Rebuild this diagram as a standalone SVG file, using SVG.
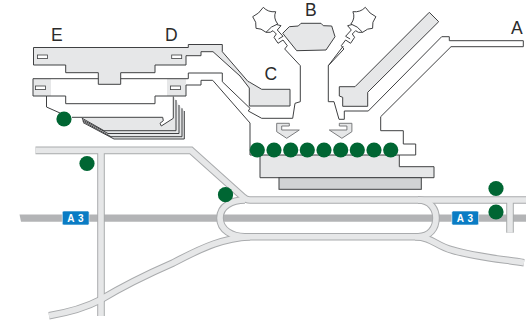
<svg xmlns="http://www.w3.org/2000/svg" width="526" height="320" viewBox="0 0 526 320">
<style>
.o{fill:none;stroke:#3f4042;stroke-width:1;stroke-linejoin:miter}
.b{fill:#e6e7e8;stroke:#3f4042;stroke-width:1}
.p{fill:#e6e7e8;stroke:none}
.w{fill:#fff;stroke:#3f4042;stroke-width:.8}
.d{fill:#006633}
.l{font-family:"Liberation Sans",Arial,sans-serif;font-size:17.500px;fill:#2b2b2b}
.a{font-family:"Liberation Sans",Arial,sans-serif;font-size:10px;font-weight:700;fill:#fff;text-anchor:middle;letter-spacing:.6px}
.s{fill:#0a7cc4;stroke:#fff;stroke-width:.6}
.r1{fill:none;stroke:#a9abad;stroke-width:7.600}
.r2{fill:none;stroke:#e6e7e8;stroke-width:5.600}
</style>
<defs>
<g id="roads">
<path d="M35.500,150.400H191L243,197Q246,200 250,200H526"/>
<path d="M101,150V316"/>
<path d="M510,200V232.700"/>
<path d="M418,200C431,200 436,210 436,218C436,228 430,236.700 418,236.700H245C232,236.700 220,230 220,218C220,206 232,200 245,200"/>
<path d="M250,236.700C225,238 205,246 173,263C150,273 125,285 100,300C85,308 65,313 49,315.700"/>
<path d="M415,236.700C432,237 436,246 452,250C475,257 500,259 524,262.700"/>
</g>
<g id="gate">
<path d="M276.700,123.300H289.300V126H281.700V130H299.300L286.700,138.300L276.700,131.700Z" fill="#e6e7e8" stroke="#6d6e70" stroke-width=".9"/>
</g>
<g id="satellite">
<path class="o" d="M263.300,7.300Q268,12.500 275.700,11.700Q273,18 277.700,24Q271,26 266,32.300Q261,28 256,28.300Q257,22 252.700,16.700Q259,14 263.300,7.300Z"/>
<path class="o" d="M276.500,24.500L281,25.700L277.300,30L283,36.300L278.500,39"/>
<path class="o" d="M266,32.300L270.300,32.300L273,30.700L276.300,34L274,37.300L278,43.300L283,40L287.300,45.700L284.700,49L300.300,65.700"/>
</g>
</defs>

<g id="connectors">
<path id="highway" d="M19.500,214.500H526V221.700H21Z" fill="#b3b4b6"/>
<use href="#roads" class="r1"/>
<use href="#roads" class="r2"/>
</g>

<g id="terminal-a">
<path class="b" d="M429.300,12.300L438.700,21.700L367.700,92.300V106.300H342.700V97.300L339.300,96V86.700H355Z"/>
<path class="o" d="M523.300,46.700V40.700H449.300V36.700H441.700L368.300,111H344.300V119.300H339L334,101.700H328.300V65.700L343.300,46"/>
<path class="o" d="M523.300,46.700H451L380.700,116.700V130.700H403.300V144H415.700V155H399.300"/>
<path class="b" d="M260,155H399.300V166.700H434V177.700H260Z"/>
<rect x="279" y="177.700" width="142.300" height="11.600" fill="#d1d3d4" stroke="#3f4042"/>
</g>

<g id="terminal-b">
<path class="b" d="M282.700,33.300L289.300,26.700L298.300,26L301,23.300L321,23.300L323.300,25.700L331.700,26L335,36.700L326,50L296.700,50.700Z"/>
<use href="#satellite"/>
<use href="#satellite" transform="translate(628.600,0) scale(-1,1)"/>
</g>

<g id="terminal-c">
<path class="b" d="M222.300,44.500V51.700L248,81.500L249.300,82L261.700,89.300H290V106H249.300V88L240,76L213,51.700H201V55.700H186V65H155V72.700H120.700V84.300H98.300V72.700H65.700V65H33.500V47.500H188.300V44.500Z"/>
<rect x="37.500" y="55" width="10" height="3.600" class="w"/>
<rect x="171.700" y="55" width="10" height="3.600" class="w"/>
</g>

<g id="terminal-d">
<rect x="33" y="79" width="18" height="17" class="p"/>
<rect x="167" y="79" width="19" height="17" class="p"/>
<path class="o" d="M98.300,78.700H33V96H46.500V107L60,113"/>
<path class="o" d="M120.700,78.700H188.300V73H222.300V81.700L250,108.300L248.300,111L261.700,118.300H292.700L295,103.300L300.300,101.700V65.700"/>
<path class="o" d="M46.500,96H65.700V103.700H155V96H186V85H201V80.300H212.700L250,123V155H260"/>
<rect x="35.500" y="86" width="10" height="3.600" class="w"/>
<rect x="170.500" y="86" width="10" height="3.600" class="w"/>
</g>

<g id="terminal-e">
<path class="p" d="M81.700,117.500H163L163.300,120.700L160,123.300L161.300,126L174,118.300V97L176,100L179,105L182,108.300L184.300,111V139H114Z"/>
<path class="o" d="M184.300,111V139H114L83,122.500"/>
<path class="o" d="M182,108.300V136.700H111L82.500,121"/>
<path class="o" d="M179,105V133.500H108L82,119.500"/>
<path class="o" d="M176,100V130.700H104L81.700,118"/>
<path class="o" d="M173.300,96.500V118.300L161.300,126L160,123.300L163.300,120.700L162.700,117.300H72"/>
</g>

<g id="gates">
<use href="#gate"/>
<use href="#gate" transform="translate(628.600,0) scale(-1,1)"/>
</g>

<g id="stands">
<circle class="d" cx="257.300" cy="150" r="7.600"/>
<circle class="d" cx="274" cy="150" r="7.600"/>
<circle class="d" cx="290.700" cy="150" r="7.600"/>
<circle class="d" cx="307.300" cy="150" r="7.600"/>
<circle class="d" cx="324" cy="150" r="7.600"/>
<circle class="d" cx="340.700" cy="150" r="7.600"/>
<circle class="d" cx="357.300" cy="150" r="7.600"/>
<circle class="d" cx="374" cy="150" r="7.600"/>
<circle class="d" cx="390.700" cy="150" r="7.600"/>
<circle class="d" cx="64" cy="119" r="7.600"/>
<circle class="d" cx="87" cy="163.500" r="7.600"/>
<circle class="d" cx="225.500" cy="194.700" r="7.600"/>
<circle class="d" cx="496" cy="188.500" r="7.600"/>
<circle class="d" cx="496" cy="212" r="7.600"/>
</g>

<g id="labels">
<text class="l" x="51" y="40.500">E</text>
<text class="l" x="165" y="40.500">D</text>
<text class="l" x="264.500" y="79.500">C</text>
<text class="l" x="305" y="16">B</text>
<text class="l" x="511" y="33.500">A</text>
</g>

<g id="sign-a3-west">
<rect class="s" x="62.300" y="211" width="26.800" height="14" rx="1.500"/>
<text class="a" x="75.700" y="222">A 3</text>
</g>
<g id="sign-a3-east">
<rect class="s" x="451.800" y="211" width="26.800" height="14" rx="1.500"/>
<text class="a" x="465.200" y="222">A 3</text>
</g>
</svg>
